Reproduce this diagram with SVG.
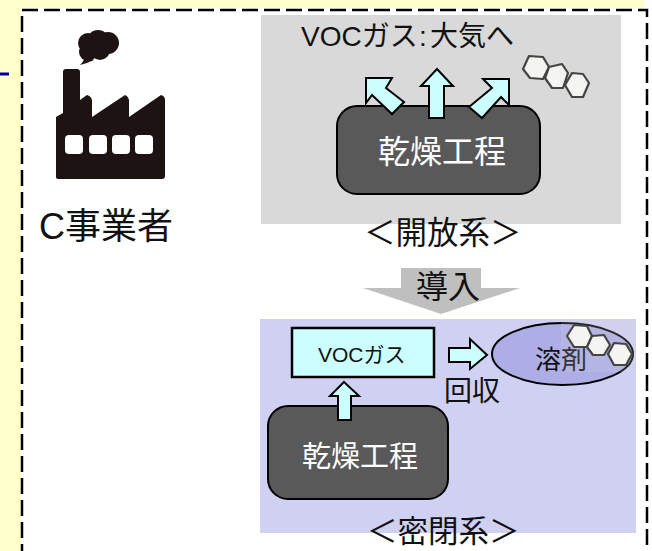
<svg xmlns="http://www.w3.org/2000/svg" width="652" height="551" viewBox="0 0 652 551">
<style>
text{font-family:"Noto Sans CJK JP","Liberation Sans",sans-serif;fill:#111}
.lat{font-family:"Liberation Sans","Noto Sans CJK JP",sans-serif}
.proc{fill:#595959;stroke:#000;stroke-width:2}
.arr{fill:#CCFFFF;stroke:#000;stroke-width:2;stroke-linejoin:miter}
.lab{fill:#fff}
.hex{fill:#f4f4f0;stroke:#444;stroke-width:2.2;stroke-linejoin:round}
</style>
<rect width="652" height="551" fill="#fff"/>
<rect width="644" height="8" fill="#FFFFCC"/>
<rect width="21" height="551" fill="#FFFFCC"/>
<path d="M0 74H9" stroke="#000099" stroke-width="3" fill="none"/>
<g id="frame"><path d="M22 560V10H647V560" fill="none" stroke="#000" stroke-width="2.5" stroke-dasharray="16 6"/></g>
<g id="factory">
<path d="M56 177V117L63 113V72Q63 69 66 69H77Q80 69 80 72V100L87 95Q91 96 92 100V117L125 95Q128 96 129 100V117L161 95Q165 96 165 100V176Q165 179 162 179H59Q56 179 56 177Z" fill="#1C1312"/>
<g fill="#fff"><rect x="65" y="135" width="18" height="19" rx="4"/><rect x="89" y="135" width="18" height="19" rx="4"/><rect x="112" y="135" width="18" height="19" rx="4"/><rect x="135" y="135" width="18" height="19" rx="4"/></g>
<g fill="#1C1312"><circle cx="88" cy="43" r="10"/><circle cx="98" cy="41" r="11"/><circle cx="108" cy="43" r="11"/><circle cx="88" cy="52" r="9"/><circle cx="100" cy="50" r="10"/><path d="M80 65Q85 60 85 55L94 60Q88 63 80 65Z"/></g>
<text x="39" y="239" font-size="36" class="lat">C事業者</text>
</g>
<g id="open-panel">
<rect x="261" y="15" width="360" height="209" fill="#D9D9D9"/>
<text y="46" font-size="28" class="lat"><tspan x="301">VOCガス</tspan><tspan x="419">:</tspan><tspan x="430">大気へ</tspan></text>
<text x="364" y="244" font-size="31.5">＜開放系＞</text>
</g>
<g id="open-process">
<rect x="337" y="106" width="203" height="88" rx="20" class="proc"/>
<text x="378" y="163" font-size="32" class="lab">乾燥工程</text>
</g>
<g id="molecule-open">
<path class="hex" d="M523 69L529 56L543 57L549 67L543 79L530 78Z"/>
<path class="hex" d="M549 67L562 64L568 73L563 88L552 88L545 78Z"/>
<path class="hex" d="M565 85L572 73L583 74L589 83L583 97L572 97Z"/>
</g>
<g id="closed-panel">
<rect x="260" y="319" width="376" height="214" fill="#D0D0F2"/>
<text x="367" y="542" font-size="30.500">＜密閉系＞</text>
</g>
<g id="voc-box">
<rect x="292" y="328" width="142" height="49" fill="#CCFFFF" stroke="#000" stroke-width="2.5"/>
<text x="318" y="362" font-size="21" class="lat">VOCガス</text>
</g>
<g id="solvent">
<ellipse cx="562.500" cy="354" rx="70.500" ry="31" fill="#AEAEE6" stroke="#000" stroke-width="2"/>
<text x="535" y="369" font-size="26" fill="#222">溶剤</text>
<rect x="561" y="319" width="75" height="53" fill="#D9D9E0" opacity=".18"/>
<path class="hex" d="M567 336L574 325L587 326L592 336L587 347L574 347Z"/>
<path class="hex" d="M592 336L604 335L610 345L604 355L593 355L587 347Z"/>
<path class="hex" d="M608 354L614 343L626 344L632 354L626 365L614 365Z"/>
</g>
<g id="closed-process">
<rect x="268" y="406" width="180" height="93" rx="20" class="proc"/>
<text x="302" y="467" font-size="29" class="lab">乾燥工程</text>
</g>
<g id="connectors">
<path class="arr" d="M366 78H392L386 88L404 102L392 114L372 95L366 103Z"/>
<path class="arr" d="M437 69L453 86H444V118H429V86H421Z"/>
<path class="arr" d="M509 79V105L501 97L482 118L469 107L492 88L483 79Z"/>
<path d="M363 288H401V268H481V288H520L441 314Z" fill="#BFBFBF"/>
<path class="arr" d="M344 382L359 396H351V420H338V396H330Z"/>
<path class="arr" d="M449 348H470V339L487 355L470 369V362H449Z"/>
</g>
<text x="416" y="298" font-size="32">導入</text>
<text x="444" y="401" font-size="28">回収</text>
</svg>
